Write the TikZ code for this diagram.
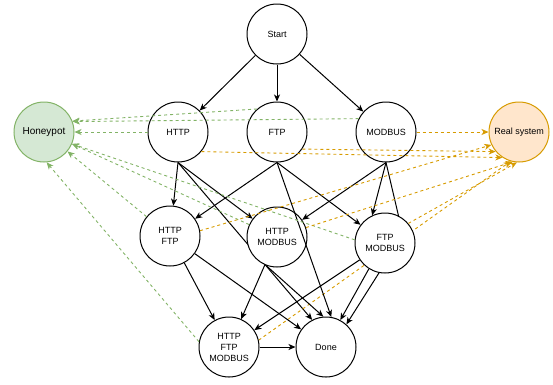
\documentclass[tikz,border=0pt]{standalone}
\usepackage{fontspec}
\setmainfont{Liberation Sans}
\usetikzlibrary{arrows.meta}
\definecolor{hpfill}{HTML}{D5E8D4}
\definecolor{hpline}{HTML}{82B366}
\definecolor{rsfill}{HTML}{FFE6CC}
\definecolor{rsline}{HTML}{D79B00}
\pgfdeclarelayer{behind}
\pgfsetlayers{behind,main}
\begin{document}
\begin{tikzpicture}[x=1pt,y=-1pt,
  state/.style={circle, draw=black, fill=white, line width=1pt, minimum size=60pt,
    inner sep=0pt, align=center, font=\fontsize{9}{11}\selectfont},
  tip/.style={-{Stealth[length=7pt,width=6pt,inset=2pt]}},
  flow/.style={draw=black, line width=1pt, tip},
  tohp/.style={draw=hpline, line width=0.9pt, dash pattern=on 3pt off 3pt, tip},
  tors/.style={draw=rsline, line width=0.9pt, dash pattern=on 3pt off 3pt, tip}]
\useasboundingbox (0,0) rectangle (553,384);

% protocol states
\node[state] (S)   at (277,34)  {Start};
\node[state] (H)   at (178,132) {HTTP};
\node[state] (F)   at (277,132) {FTP};
\node[state] (M)   at (386,132) {MODBUS};
\node[state] (HF)  at (170,236) {HTTP\\FTP};
\node[state] (HM)  at (277,237) {HTTP\\MODBUS};
\node[state] (FM)  at (385,243) {FTP\\MODBUS};
\node[state] (HFM) at (229,347) {HTTP\\FTP\\MODBUS};
\node[state] (D)   at (326,347) {Done};

% outcomes
\node[state, fill=hpfill, draw=hpline, font=\fontsize{10}{12}\selectfont] (Hp) at (44,132) {Honeypot};
\node[state, fill=rsfill, draw=rsline] (R) at (519,132) {Real system};

\coordinate (mbend) at (403,235);

% transitions
\draw[flow] (S) -- (H);
\draw[flow] (S) -- (F);
\draw[flow] (S) -- (M);

\draw[flow] (H.south) -- (HF);
\draw[flow] (H.south) -- (HM);
\draw[flow] (F.south) -- (HF);
\draw[flow] (F.south) -- (FM);
\draw[flow] (F.south) -- (D.80);
\draw[flow] (M.south) -- (HM);
\draw[flow] (M.south) -- (FM.115);

\draw[flow] (HF) -- (HFM);
\draw[flow] (HF) -- (D);
\draw[flow] (HM) -- (HFM);
\draw[flow] (HM.249) -- (D.95);
\draw[flow] (FM) -- (HFM);
\draw[flow] (FM.238) -- (D.62);
\draw[flow] (HFM) -- (D);

\begin{pgfonlayer}{behind}
\draw[flow] (H.south) -- (D.117);
\draw[flow] (M.south) -- (mbend) -- (D.48);
\draw[tors] (HFM.13) -- (R.254);
\end{pgfonlayer}

% detections
\draw[tohp] (H) -- (Hp);
\draw[tohp] (F.131) -- (Hp.21);
\draw[tohp] (M.154) -- (Hp.20);
\draw[tohp] (HF) -- (Hp);
\draw[tohp] (HM.156) -- (Hp.-23);
\draw[tohp] (FM.174) -- (Hp.-23);
\draw[tohp] (HFM.170) -- (Hp.-85);

% pass-through
\draw[tors] (M) -- (R);
\draw[tors] (H.-40) -- (R.237);
\draw[tors] (F.-34) -- (R.220);
\draw[tors] (HF.10) -- (R.205);
\draw[tors] (HM.18) -- (R.258);
\draw[tors] (FM.40) -- (R.266);
\end{tikzpicture}
\end{document}
